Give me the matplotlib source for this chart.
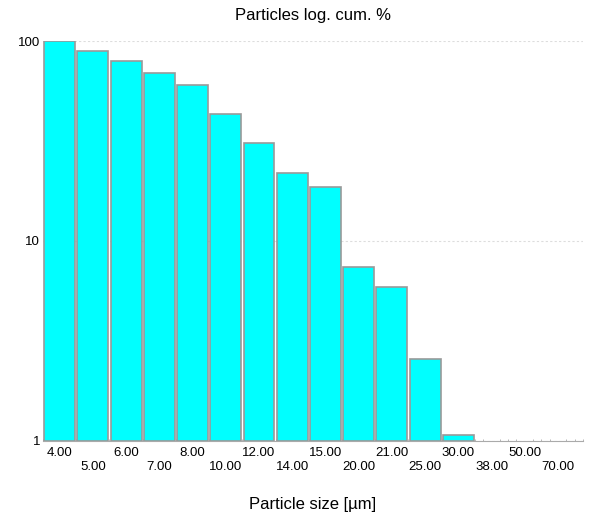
import matplotlib.pyplot as plt
import numpy as np

plt.rcParams['font.family'] = ['Liberation Sans', 'DejaVu Sans']

sizes = ['4.00', '5.00', '6.00', '7.00', '8.00', '10.00', '12.00', '14.00',
         '15.00', '20.00', '21.00', '25.00', '30.00', '38.00', '50.00', '70.00']
cum_pct = [99.8, 89.5, 79.6, 68.8, 60.5, 43.4, 31.0, 22.0,
           18.7, 7.45, 5.9, 2.58, 1.07, 0.0, 0.0, 0.0]

fig = plt.figure(figsize=(5.93, 5.30), dpi=100)
ax = fig.add_axes([0.0725, 0.168, 0.9105, 0.7546])

x = np.arange(len(sizes))
vals = np.array(cum_pct)
shown = vals > 1
ax.bar(x[shown], vals[shown] - 1, bottom=1, width=0.93,
       color='#00ffff', edgecolor='#999999', linewidth=1.2, zorder=3)

ax.set_yscale('log')
ax.set_ylim(1, 100)
ax.set_xlim(-0.5, len(sizes) - 0.5)
ax.set_yticks([1, 10, 100])
ax.set_yticklabels(['1', '10', '100'])
ax.yaxis.set_minor_locator(plt.NullLocator())
ax.tick_params(axis='y', length=0, pad=2, labelsize=9.5)
ax.grid(axis='y', which='major', color='#dddddd', linestyle=(0, (2, 2)), linewidth=0.8, zorder=0)

labels = [s if i % 2 == 0 else '\n' + s for i, s in enumerate(sizes)]
ax.set_xticks(x)
ax.set_xticklabels(labels, fontsize=9.5, linespacing=1.3)
ax.set_xticks(np.arange(-0.5, len(sizes), 0.25), minor=True)
ax.tick_params(axis='x', which='major', length=0, pad=4)
ax.tick_params(axis='x', which='minor', length=1.5, color='#aaaaaa', direction='in')

for side in ['left', 'right', 'top']:
    ax.spines[side].set_visible(False)
ax.spines['bottom'].set_color('#aaaaaa')
ax.spines['bottom'].set_linestyle((0, (1, 1)))

ax.set_title('Particles log. cum. %', fontsize=12, pad=15)
ax.set_xlabel('Particle size [µm]', fontsize=12, labelpad=17)

fig.savefig('out.png', dpi=100)
